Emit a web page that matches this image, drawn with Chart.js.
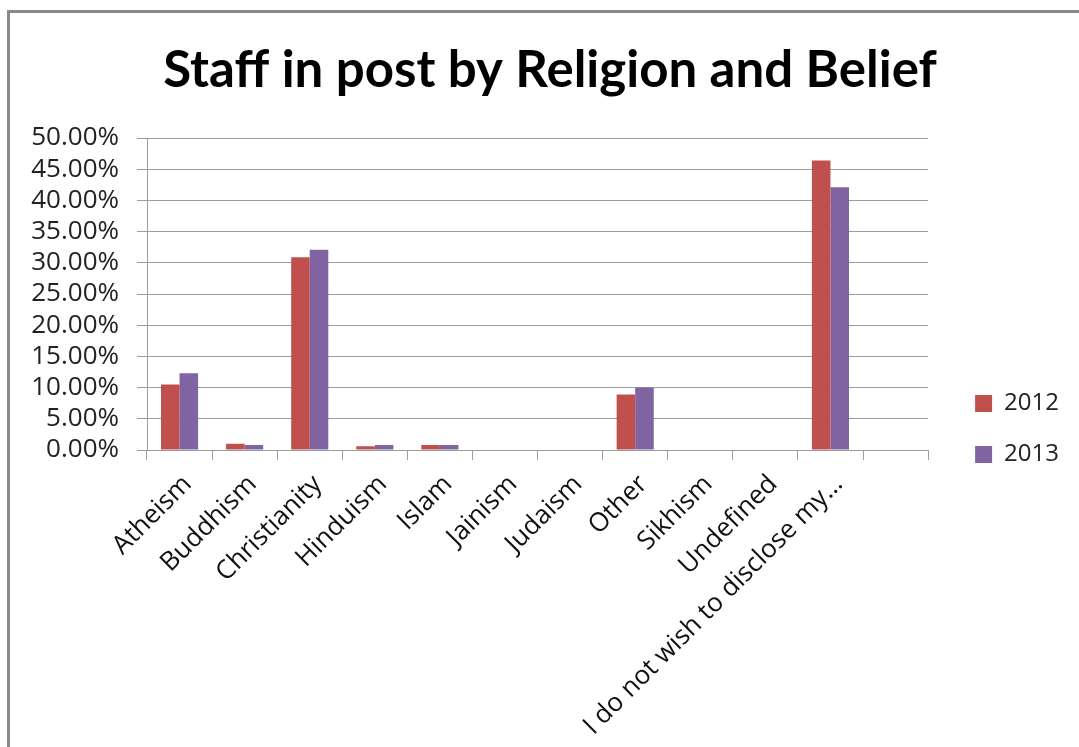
<!DOCTYPE html>
<html>
<head>
<meta charset="utf-8">
<title>Staff in post by Religion and Belief</title>
<script src="https://cdn.jsdelivr.net/npm/chart.js@4/dist/chart.umd.min.js"></script>
<style>
    html, body {
        margin: 0;
        padding: 0;
        background: #fff;
        overflow: hidden;
    }
    .frame {
        position: absolute;
        left: 7px;
        top: 10px;
        width: 1200px;
        height: 900px;
        border: 3px solid #8a8a8a;
    }
    #religionChart {
        position: absolute;
        left: 0;
        top: 0;
    }
</style>
</head>
<body>
<div class="frame"></div>
<canvas id="religionChart" width="1079" height="747"></canvas>
<script>
// Categories and percentages per year
const categories = [
    "Atheism",
    "Buddhism",
    "Christianity",
    "Hinduism",
    "Islam",
    "Jainism",
    "Judaism",
    "Other",
    "Sikhism",
    "Undefined",
    "I do not wish to disclose my…",
    "",
];
const values2012 = [10.5, 1.0, 30.9, 0.6, 0.8, 0, 0, 8.9, 0, 0, 46.4, null];
const values2013 = [12.3, 0.8, 32.1, 0.8, 0.8, 0, 0, 10.0, 0, 0, 42.1, null];
const yTicks = [0, 5, 10, 15, 20, 25, 30, 35, 40, 45, 50];

const FONT = "'Open Sans', sans-serif";
const TITLE_FONT = "Lato, 'Open Sans', sans-serif";
const gridColor = "#9c9c9c";

const ctx = document.getElementById("religionChart").getContext("2d");
const religionChart = new Chart(ctx, {
    type: "bar",
    data: {
        labels: categories,
        datasets: [
            {
                label: "2012",
                data: values2012,
                backgroundColor: "#c0504d",
            },
            {
                label: "2013",
                data: values2013,
                backgroundColor: "#8064a2",
            },
        ],
    },
    options: {
        responsive: false,
        animation: false,
        categoryPercentage: 0.57,
        barPercentage: 1.0,
        layout: {
            padding: { left: 31, right: 10, top: 0, bottom: 0 },
        },
        plugins: {
            title: {
                display: true,
                text: "Staff in post by Religion and Belief",
                color: "#000",
                font: { family: TITLE_FONT, size: 51, weight: "bold", lineHeight: 1.2 },
                padding: { top: 40, bottom: 36.8 },
            },
            legend: {
                position: "right",
                title: {
                    display: true,
                    text: "",
                    font: { size: 1, lineHeight: 1 },
                    padding: { top: 110, bottom: 0 },
                },
                labels: {
                    boxWidth: 17,
                    boxHeight: 17,
                    padding: 27,
                    color: "#222",
                    font: { family: FONT, size: 24 },
                },
            },
            tooltip: { enabled: false },
        },
        scales: {
            x: {
                grid: {
                    drawOnChartArea: false,
                    tickLength: 10,
                    color: gridColor,
                },
                border: { color: gridColor },
                ticks: {
                    autoSkip: false,
                    maxRotation: 45,
                    minRotation: 45,
                    padding: 9,
                    labelOffset: 8,
                    color: "#111",
                    font: { family: FONT, size: 26 },
                },
                afterFit: (scale) => {
                    scale.height = 297;
                },
            },
            y: {
                min: 0,
                max: 50,
                grid: { color: gridColor, tickLength: 10 },
                border: { color: gridColor },
                afterBuildTicks: (scale) => {
                    scale.ticks = yTicks.map((v) => ({ value: v }));
                },
                ticks: {
                    autoSkip: false,
                    padding: 18,
                    color: "#222",
                    font: { family: FONT, size: 26 },
                    callback: (v) => v.toFixed(2) + "%",
                },
                afterFit: (scale) => {
                    scale.width = 116;
                },
            },
            // empty strip between plot area and legend
            gap: {
                type: "linear",
                position: "right",
                grid: { display: false },
                border: { display: false },
                ticks: { display: false },
                afterFit: (scale) => {
                    scale.width = 20;
                },
            },
        },
    },
});
</script>
</body>
</html>
